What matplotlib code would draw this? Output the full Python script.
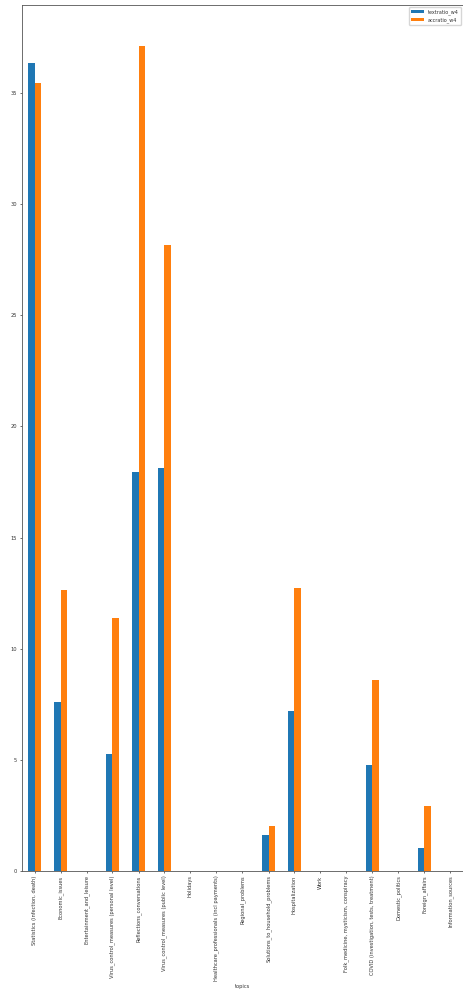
import matplotlib
matplotlib.use('Agg')
import matplotlib.pyplot as plt
import pandas as pd

topics = [
    'Statistics (infection, death)',
    'Economic_issues',
    'Entertainment_and_leisure',
    'Virus_control_measures (personal level)',
    'Reflections_conversations',
    'Virus_control_measures (public level)',
    'Holidays',
    'Healthcare_professionals (incl payments)',
    'Regional_problems',
    'Solutions_to_household_problems',
    'Hospitalization',
    'Work',
    'Folk_medicine, mysticism, conspiracy',
    'COVID (investigation, tests, treatment)',
    'Domestic_politics',
    'Foreign_affairs',
    'Information_sources',
]
textratio_w4 = [36.35, 7.6, 0, 5.27, 17.93, 18.15, 0, 0, 0, 1.62, 7.2, 0, 0, 4.77, 0, 1.04, 0]
accratio_w4 = [35.45, 12.66, 0, 11.4, 37.1, 28.15, 0, 0, 0, 2.03, 12.75, 0, 0, 8.6, 0, 2.93, 0]

TEXT_COLOR = '#333333'
plt.rcParams['font.size'] = 3.7
plt.rcParams['text.color'] = TEXT_COLOR
plt.rcParams['axes.labelcolor'] = TEXT_COLOR
plt.rcParams['xtick.labelcolor'] = TEXT_COLOR
plt.rcParams['ytick.labelcolor'] = TEXT_COLOR
plt.rcParams['axes.edgecolor'] = '#555555'
plt.rcParams['axes.linewidth'] = 0.6
plt.rcParams['xtick.major.size'] = 1.6
plt.rcParams['ytick.major.size'] = 1.6
plt.rcParams['xtick.major.width'] = 0.4
plt.rcParams['ytick.major.width'] = 0.4
plt.rcParams['xtick.major.pad'] = 1.6
plt.rcParams['ytick.major.pad'] = 1.6

df = pd.DataFrame({'textratio_w4': textratio_w4, 'accratio_w4': accratio_w4},
                  index=pd.Index(topics, name='topics'))

fig = plt.figure(figsize=(4.64, 9.96), dpi=100)
ax = fig.add_axes([21.5 / 464, 125 / 996, 442 / 464, 866 / 996])
df.plot.bar(ax=ax)
ax.set_xlabel('topics', labelpad=2)
ax.legend(loc='upper right', fontsize=3.5, handlelength=2.8, borderaxespad=0.5)

fig.savefig('out.png', dpi=100)
